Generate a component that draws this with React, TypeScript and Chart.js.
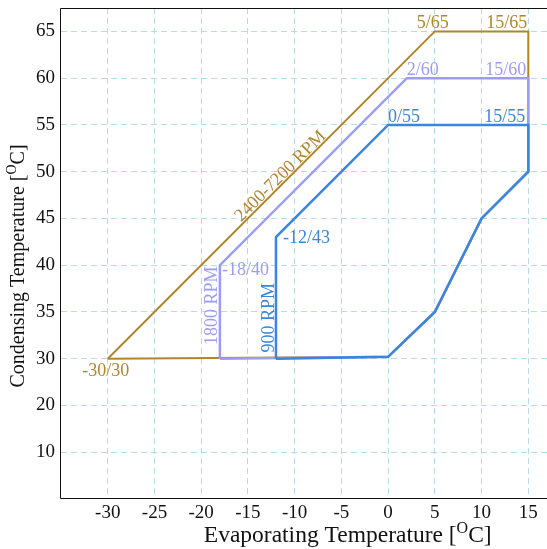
import React, { useEffect, useRef } from 'react';
import { Chart, registerables } from 'chart.js';

Chart.register(...registerables);

// Axis ticks
const xTicks = [-30, -25, -20, -15, -10, -5, 0, 5, 10, 15];
// Tick positions on the condensing-temperature scale and the text printed at each.
// Below 30 the printed labels step by 10 while the spacing stays the same.
const yTickPositions = [65, 60, 55, 50, 45, 40, 35, 30, 25, 20];
const yTickLabels = ['65', '60', '55', '50', '45', '40', '35', '30', '20', '10'];

// Operating envelopes: evaporating temperature (x) / condensing temperature (y), °C
const env2400X = [-30, 5, 15, 15, 10, 5, 0, -30];
const env2400Y = [30, 65, 65, 50, 45, 35, 30.2, 30];
const env1800X = [-18, -18, 2, 15, 15, 10, 5, 0, -18];
const env1800Y = [30, 40, 60, 60, 50, 45, 35, 30.2, 30];
const env900X = [-12, -12, 0, 15, 15, 10, 5, 0, -12];
const env900Y = [30, 43, 55, 55, 50, 45, 35, 30.2, 30];

const speedNames = ['2400-7200 RPM', '1800 RPM', '900 RPM'];

const BROWN = '#b0852b';
const PURPLE = '#9c9cf6';
const BLUE = '#3a86dc';
const GRID = '#b9dbe6';
const FONT = '"Liberation Serif", "Times New Roman", serif';

const toPoints = (xs: number[], ys: number[]) => xs.map((x, i) => ({ x, y: ys[i] }));

type CornerLabel = {
  xs: number[];
  ys: number[];
  idx: number;
  color: string;
  align: CanvasTextAlign;
  baseline: CanvasTextBaseline;
  dx: number;
  dy: number;
};

// corner value labels
const cornerLabels: CornerLabel[] = [
  { xs: env2400X, ys: env2400Y, idx: 1, color: BROWN, align: 'center', baseline: 'alphabetic', dx: -2, dy: -3 },
  { xs: env2400X, ys: env2400Y, idx: 2, color: BROWN, align: 'right', baseline: 'alphabetic', dx: -1, dy: -3 },
  { xs: env2400X, ys: env2400Y, idx: 0, color: BROWN, align: 'center', baseline: 'alphabetic', dx: -2, dy: 17 },
  { xs: env1800X, ys: env1800Y, idx: 2, color: PURPLE, align: 'left', baseline: 'alphabetic', dx: 0, dy: -3 },
  { xs: env1800X, ys: env1800Y, idx: 3, color: PURPLE, align: 'right', baseline: 'alphabetic', dx: -2, dy: -3 },
  { xs: env1800X, ys: env1800Y, idx: 1, color: PURPLE, align: 'left', baseline: 'middle', dx: 2, dy: 5 },
  { xs: env900X, ys: env900Y, idx: 2, color: BLUE, align: 'left', baseline: 'alphabetic', dx: 0, dy: -3 },
  { xs: env900X, ys: env900Y, idx: 3, color: BLUE, align: 'right', baseline: 'alphabetic', dx: -3, dy: -3 },
  { xs: env900X, ys: env900Y, idx: 1, color: BLUE, align: 'left', baseline: 'middle', dx: 7, dy: 1 },
];

function drawSupTitle(
  ctx: CanvasRenderingContext2D,
  before: string,
  sup: string,
  after: string,
  size: number,
) {
  const supSize = Math.round(size * 0.68);
  ctx.font = `${size}px ${FONT}`;
  const w1 = ctx.measureText(before).width;
  const w3 = ctx.measureText(after).width;
  ctx.font = `${supSize}px ${FONT}`;
  const w2 = ctx.measureText(sup).width;
  let x = -(w1 + w2 + w3) / 2;
  ctx.textAlign = 'left';
  ctx.textBaseline = 'alphabetic';
  ctx.font = `${size}px ${FONT}`;
  ctx.fillText(before, x, 0);
  x += w1;
  ctx.font = `${supSize}px ${FONT}`;
  ctx.fillText(sup, x, -size * 0.38);
  x += w2;
  ctx.font = `${size}px ${FONT}`;
  ctx.fillText(after, x, 0);
}

const decorPlugin = {
  id: 'envelopeDecor',
  afterDatasetsDraw(chart: any) {
    const { ctx, chartArea } = chart;
    const xs = chart.scales.x;
    const ys = chart.scales.y;
    ctx.save();

    // frame: left, top and bottom edges (the right edge sits at the canvas border)
    const l = Math.round(chartArea.left) - 0.5;
    const t = Math.round(chartArea.top) + 0.5;
    const b = Math.round(chartArea.bottom) - 0.5;
    const r = chartArea.right + 2;
    ctx.strokeStyle = '#111';
    ctx.lineWidth = 1;
    ctx.setLineDash([]);
    ctx.beginPath();
    ctx.moveTo(r, t);
    ctx.lineTo(l, t);
    ctx.lineTo(l, b);
    ctx.lineTo(r, b);
    ctx.stroke();

    // corner values
    ctx.font = `18px ${FONT}`;
    for (const c of cornerLabels) {
      const vx = c.xs[c.idx];
      const vy = c.ys[c.idx];
      ctx.fillStyle = c.color;
      ctx.textAlign = c.align;
      ctx.textBaseline = c.baseline;
      ctx.fillText(`${vx}/${vy}`, xs.getPixelForValue(vx) + c.dx, ys.getPixelForValue(vy) + c.dy);
    }

    // speed names along the envelope edges
    ctx.textAlign = 'center';
    const rotated = (text: string, color: string, px: number, py: number, angle: number, baseline: CanvasTextBaseline, off: number) => {
      ctx.save();
      ctx.translate(px, py);
      ctx.rotate(angle);
      ctx.fillStyle = color;
      ctx.textBaseline = baseline;
      ctx.fillText(text, 0, off);
      ctx.restore();
    };
    rotated(speedNames[0], BROWN, xs.getPixelForValue(-11), ys.getPixelForValue(49), -Math.PI / 4, 'alphabetic', -2);
    rotated(speedNames[1], PURPLE, xs.getPixelForValue(env1800X[0]) - 8, ys.getPixelForValue(env1800Y[0]) - 53, -Math.PI / 2, 'middle', 0);
    rotated(speedNames[2], BLUE, xs.getPixelForValue(env900X[0]) - 7, ys.getPixelForValue(env900Y[0]) - 41, -Math.PI / 2, 'middle', 0);

    // axis titles with superscript degree marker
    ctx.fillStyle = '#111';
    ctx.save();
    ctx.translate(chartArea.left + (chartArea.right - chartArea.left) * 0.59, 542);
    drawSupTitle(ctx, 'Evaporating Temperature [', 'O', 'C]', 23.5);
    ctx.restore();

    ctx.save();
    ctx.translate(24, 266);
    ctx.rotate(-Math.PI / 2);
    drawSupTitle(ctx, 'Condensing Temperature [', 'O', 'C]', 20);
    ctx.restore();

    ctx.restore();
  },
};

export default function App() {
  const canvasRef = useRef<HTMLCanvasElement | null>(null);

  useEffect(() => {
    const canvas = canvasRef.current;
    if (!canvas) return;
    const gridOpts = { color: GRID, lineWidth: 1, drawTicks: false };
    const borderOpts = { display: false, dash: [6, 4] };
    const chart = new Chart(canvas, {
      type: 'line',
      data: {
        datasets: [
          {
            label: speedNames[2],
            data: toPoints(env900X, env900Y),
            borderColor: BLUE,
            borderWidth: 2.5,
            order: 1,
          },
          {
            label: speedNames[1],
            data: toPoints(env1800X, env1800Y),
            borderColor: PURPLE,
            borderWidth: 2.5,
            order: 2,
          },
          {
            label: speedNames[0],
            data: toPoints(env2400X, env2400Y),
            borderColor: BROWN,
            borderWidth: 2,
            order: 3,
          },
        ],
      },
      options: {
        animation: false,
        responsive: false,
        layout: { padding: { top: 8, left: 0, right: 0, bottom: 0 } },
        elements: {
          point: { radius: 0, hoverRadius: 0 },
          line: { tension: 0, fill: false, borderJoinStyle: 'miter' },
        },
        plugins: { legend: { display: false }, tooltip: { enabled: false } },
        scales: {
          x: {
            type: 'linear',
            min: -35,
            max: 17,
            afterBuildTicks: (s: any) => {
              s.ticks = xTicks.map((v) => ({ value: v }));
            },
            afterFit: (s: any) => {
              s.height = 50;
              s.paddingLeft = 0;
              s.paddingRight = 0;
            },
            grid: gridOpts,
            border: borderOpts,
            ticks: {
              color: '#111',
              font: { family: FONT, size: 19 },
              padding: 3,
              maxRotation: 0,
              autoSkip: false,
              callback: (v: any) => String(v),
            },
          },
          y: {
            type: 'linear',
            min: 15,
            max: 67.5,
            afterBuildTicks: (s: any) => {
              s.ticks = yTickPositions.map((v) => ({ value: v }));
            },
            afterFit: (s: any) => {
              s.width = 61;
              s.paddingTop = 0;
              s.paddingBottom = 0;
            },
            grid: gridOpts,
            border: borderOpts,
            ticks: {
              color: '#111',
              font: { family: FONT, size: 19 },
              padding: 6,
              autoSkip: false,
              callback: (v: any) => {
                const i = yTickPositions.indexOf(Number(v));
                return i >= 0 ? yTickLabels[i] : '';
              },
            },
          },
        },
      },
      plugins: [decorPlugin],
    } as any);
    return () => chart.destroy();
  }, []);

  return (
    <div style={{ position: 'absolute', left: 0, top: 0, width: 547, height: 549, background: '#fff' }}>
      <canvas ref={canvasRef} width={547} height={549} style={{ display: 'block' }} />
    </div>
  );
}
